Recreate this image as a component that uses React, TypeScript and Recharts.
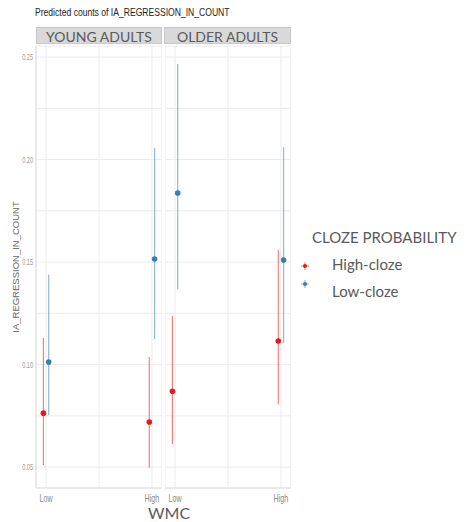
import { ScatterChart, Scatter, XAxis, YAxis, CartesianGrid, ErrorBar } from 'recharts';

const RED = '#e41a1c';
const BLUE = '#377eb8';
const GRID = '#ebebeb';

const categories = ['Low', 'High'];
const yTicks = [0.05, 0.075, 0.1, 0.125, 0.15, 0.175, 0.2, 0.225, 0.25];
const yMajor = [0.05, 0.1, 0.15, 0.2, 0.25];

// young adults
const youngHighMean = [0.0763, 0.072];
const youngHighLo = [0.051, 0.0497];
const youngHighHi = [0.113, 0.1037];
const youngLowMean = [0.1012, 0.1515];
const youngLowLo = [0.0754, 0.1125];
const youngLowHi = [0.144, 0.2056];

// older adults
const olderHighMean = [0.087, 0.1115];
const olderHighLo = [0.0612, 0.0807];
const olderHighHi = [0.1237, 0.1559];
const olderLowMean = [0.1837, 0.151];
const olderLowLo = [0.1368, 0.1105];
const olderLowHi = [0.2466, 0.206];

const DODGE = 0.025;

function build(mean: number[], lo: number[], hi: number[], offset: number) {
  return categories.map((c, i) => ({
    wmc: i + 1 + offset,
    est: mean[i],
    err: [mean[i] - lo[i], hi[i] - mean[i]],
  }));
}

const Dot = (color: string) => (props: any) => {
  const { cx, cy } = props;
  if (cx == null || cy == null) return null;
  return <circle cx={cx} cy={cy} r={2.8} fill={color} />;
};

const FONT = 'Liberation Sans, Arial, sans-serif';

// condensed tick text, squeezed horizontally
const XTick = (props: any) => {
  const { x, y, payload } = props;
  const v = payload.value;
  const label = v === 1 ? categories[0] : v === 2 ? categories[1] : '';
  if (!label) return null;
  return (
    <text transform={`translate(${x},${y + 6}) scale(0.72,1)`} textAnchor="middle" fontSize={10} fill="#8a8a8a" fontFamily={FONT}>
      {label}
    </text>
  );
};

const YTick = (props: any) => {
  const { x, y, payload } = props;
  const v = payload.value;
  if (!yMajor.some(m => Math.abs(m - v) < 1e-9)) return null;
  return (
    <text transform={`translate(${x + 5},${y + 3}) scale(0.62,1)`} textAnchor="end" fontSize={9} fill="#9a9a9a" fontFamily={FONT}>
      {v.toFixed(2)}
    </text>
  );
};

function Panel({ high, low, showY, width }: { high: any[]; low: any[]; showY: boolean; width: number }) {
  return (
    <ScatterChart width={width} height={522} margin={{ top: 46, right: 0, bottom: 14, left: 0 }}>
      <CartesianGrid stroke={GRID} strokeWidth={1} />
      <XAxis
        type="number"
        dataKey="wmc"
        domain={[0.905, 2.095]}
        ticks={[1, 1.5, 2]}
        tickLine={false}
        axisLine={{ stroke: '#dedede' }}
        tick={<XTick />}
        height={20}
        allowDataOverflow
      />
      <YAxis
        type="number"
        dataKey="est"
        domain={[0.0398, 0.2554]}
        ticks={yTicks}
        hide={!showY}
        width={36}
        tickLine={false}
        axisLine={{ stroke: '#dedede' }}
        tick={<YTick />}
        allowDataOverflow
      />
      <Scatter data={high} fill={RED} shape={Dot(RED)} isAnimationActive={false}>
        <ErrorBar dataKey="err" direction="y" width={0} stroke={RED} strokeOpacity={0.55} strokeWidth={1.2} />
      </Scatter>
      <Scatter data={low} fill={BLUE} shape={Dot(BLUE)} isAnimationActive={false}>
        <ErrorBar dataKey="err" direction="y" width={0} stroke={BLUE} strokeOpacity={0.55} strokeWidth={1.2} />
      </Scatter>
    </ScatterChart>
  );
}

const stripStyle = (left: number, width: number): React.CSSProperties => ({
  position: 'absolute',
  left,
  top: 27,
  width,
  height: 17,
  background: '#d9d9d9',
  border: '1px solid #c8c8c8',
  boxSizing: 'border-box',
  color: '#5a5a5a',
  fontFamily: 'Lato, sans-serif',
  fontSize: 14,
  lineHeight: '17px',
  textAlign: 'center',
});

function LegendKey({ color }: { color: string }) {
  return (
    <svg width={10} height={10} style={{ position: 'absolute', left: -5, top: -5 }}>
      <line x1={5} y1={1} x2={5} y2={9} stroke={color} strokeOpacity={0.6} />
      <line x1={1} y1={5} x2={9} y2={5} stroke={color} strokeOpacity={0.6} />
      <circle cx={5} cy={5} r={2} fill={color} />
    </svg>
  );
}

export default function App() {
  const youngHigh = build(youngHighMean, youngHighLo, youngHighHi, -DODGE);
  const youngLow = build(youngLowMean, youngLowLo, youngLowHi, DODGE);
  const olderHigh = build(olderHighMean, olderHighLo, olderHighHi, -DODGE);
  const olderLow = build(olderLowMean, olderLowLo, olderLowHi, DODGE);

  return (
    <div style={{ position: 'absolute', left: 0, top: 0, width: 469, height: 522, background: '#fff', overflow: 'hidden' }}>
      <div
        style={{
          position: 'absolute',
          left: 35,
          top: 6,
          fontFamily: FONT,
          fontSize: 11,
          color: '#222',
          whiteSpace: 'nowrap',
          transform: 'scaleX(0.78)',
          transformOrigin: 'left top',
        }}
      >
        Predicted counts of IA_REGRESSION_IN_COUNT
      </div>
      <div style={stripStyle(36, 126)}>YOUNG ADULTS</div>
      <div style={stripStyle(164, 127)}>OLDER ADULTS</div>
      <div style={{ position: 'absolute', left: 0, top: 0 }}>
        <Panel high={youngHigh} low={youngLow} showY width={162} />
      </div>
      <div style={{ position: 'absolute', left: 165, top: 0 }}>
        <Panel high={olderHigh} low={olderLow} showY={false} width={126} />
      </div>
      <div
        style={{
          position: 'absolute',
          left: 16,
          top: 267,
          transform: 'translate(-50%, -50%) rotate(-90deg)',
          whiteSpace: 'nowrap',
          fontFamily: FONT,
          fontSize: 9.5,
          lineHeight: '10px',
          color: '#6a6a6a',
        }}
      >
        IA_REGRESSION_IN_COUNT
      </div>
      <div style={{ position: 'absolute', left: 148, top: 505, fontFamily: 'Lato, sans-serif', fontSize: 16, lineHeight: '15px', color: '#5a5a5a' }}>
        WMC
      </div>
      <div style={{ position: 'absolute', left: 312, top: 228, fontFamily: 'Lato, sans-serif', fontSize: 15, color: '#5a5a5a' }}>
        CLOZE PROBABILITY
      </div>
      <div style={{ position: 'absolute', left: 305, top: 266 }}>
        <LegendKey color={RED} />
      </div>
      <div style={{ position: 'absolute', left: 305, top: 284 }}>
        <LegendKey color={BLUE} />
      </div>
      <div style={{ position: 'absolute', left: 332, top: 255, fontFamily: 'Lato, sans-serif', fontSize: 15, color: '#5a5a5a' }}>
        High-cloze
      </div>
      <div style={{ position: 'absolute', left: 332, top: 282, fontFamily: 'Lato, sans-serif', fontSize: 15, color: '#5a5a5a' }}>
        Low-cloze
      </div>
    </div>
  );
}
